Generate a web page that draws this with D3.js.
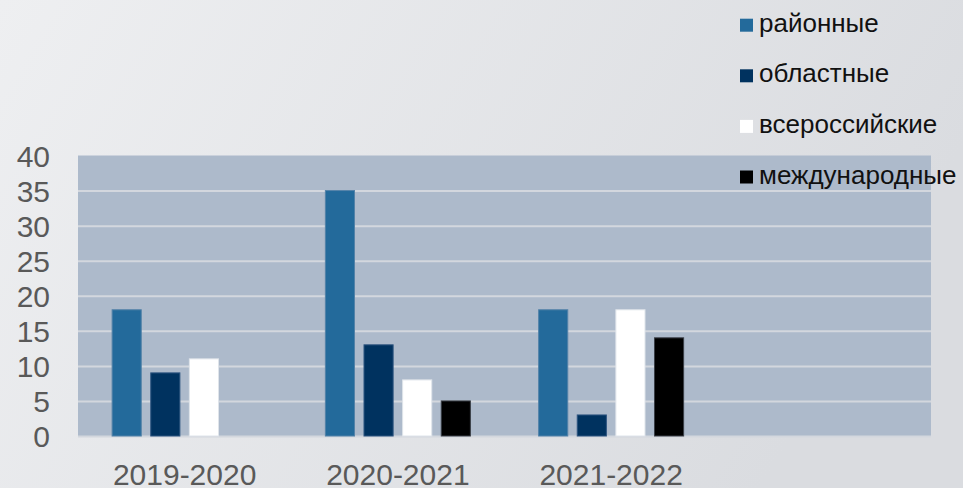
<!DOCTYPE html>
<html><head><meta charset="utf-8">
<script src="https://cdn.jsdelivr.net/npm/d3@7"></script>
<style>html,body{margin:0;padding:0;overflow:hidden}svg{display:block}</style>
</head><body>
<script>
const categories = ["2019-2020", "2020-2021", "2021-2022", ""];
const seriesNames = ["районные", "областные", "всероссийские", "международные"];
const seriesColors = ["#236a9b", "#00325f", "#ffffff", "#000000"];
const seriesStrokes = ["#5382a8", "#2d5580", "#dfe4ea", "#3a3f47"];
const rayonnye = [18, 35, 18, null];
const oblastnye = [9, 13, 3, null];
const vserossiyskie = [11, 8, 18, null];
const mezhdunarodnye = [null, 5, 14, null];
const yTicks = [0, 5, 10, 15, 20, 25, 30, 35, 40];

const seriesValues = [rayonnye, oblastnye, vserossiyskie, mezhdunarodnye];
const W = 963, H = 488;
const svg = d3.select("body").append("svg").attr("width", W).attr("height", H);
const defs = svg.append("defs");
const grad = defs.append("linearGradient").attr("id", "bg").attr("x1", "0").attr("x2", "1").attr("y1", "0").attr("y2", "0.3");
grad.append("stop").attr("offset", "0").attr("stop-color", "#eeeff1");
grad.append("stop").attr("offset", "1").attr("stop-color", "#dadce0");
svg.append("rect").attr("width", W).attr("height", H).attr("fill", "url(#bg)");

const plot = {left: 78, right: 931, top: 155.5, bottom: 436};
const x0 = d3.scaleBand().domain(categories).range([plot.left, plot.right]).padding(0);
const groupW = 146;
const x1 = d3.scaleBand().domain(d3.range(seriesNames.length))
  .range([x0.bandwidth() / 2 - groupW / 2, x0.bandwidth() / 2 + groupW / 2])
  .paddingInner(0.22).paddingOuter(0);
const y = d3.scaleLinear().domain([0, 40]).range([plot.bottom, plot.top]);

svg.append("rect").attr("x", plot.left).attr("y", plot.top)
  .attr("width", plot.right - plot.left).attr("height", plot.bottom - plot.top)
  .attr("fill", "#adbacb");

// gridlines
const yAxisGrid = d3.axisLeft(y).tickValues(yTicks).tickSize(-(plot.right - plot.left)).tickFormat("");
const grid = svg.append("g").attr("transform", `translate(${plot.left},0)`).call(yAxisGrid);
grid.select(".domain").remove();
grid.selectAll("line").attr("stroke", "#d3d7de").attr("stroke-width", 2)
  .filter(d => d === 40).remove();

// bars
const rows = [];
categories.forEach((c, ci) => seriesValues.forEach((vals, si) => {
  if (vals[ci] != null) rows.push({c, si, v: vals[ci]});
}));
svg.append("g").selectAll("rect").data(rows).join("rect")
  .attr("x", d => x0(d.c) + x1(d.si) + 0.5)
  .attr("y", d => y(d.v))
  .attr("width", x1.bandwidth() - 1)
  .attr("height", d => y(0) - y(d.v))
  .attr("fill", d => seriesColors[d.si])
  .attr("stroke", d => seriesStrokes[d.si])
  .attr("stroke-width", 1);

// y axis labels
const yAxis = d3.axisLeft(y).tickValues(yTicks).tickSize(0).tickPadding(0);
const ya = svg.append("g").attr("transform", `translate(50,0)`).call(yAxis);
ya.select(".domain").remove();
ya.selectAll("text").attr("font-family", "'Liberation Sans', Arial, sans-serif")
  .attr("font-size", 30).attr("fill", "#595959").attr("dy", "0.36em");

// x axis labels
const xAxis = d3.axisBottom(x0).tickSize(0).tickPadding(0);
const xa = svg.append("g").attr("transform", `translate(0,${plot.bottom})`).call(xAxis);
xa.select(".domain").remove();
xa.selectAll("text").attr("font-family", "'Liberation Sans', Arial, sans-serif")
  .attr("font-size", 30).attr("fill", "#595959").attr("dy", null).attr("y", 48.5);

// legend
const lg = svg.append("g");
seriesNames.forEach((n, i) => {
  const by = 31.7 + i * 50.6;
  lg.append("rect").attr("x", 740).attr("y", by - 13).attr("width", 13).attr("height", 13)
    .attr("fill", seriesColors[i]);
  lg.append("text").attr("x", 759).attr("y", by)
    .attr("font-family", "'Liberation Sans', Arial, sans-serif")
    .attr("font-size", 26).attr("fill", "#111").text(n);
});
</script>
</body></html>
